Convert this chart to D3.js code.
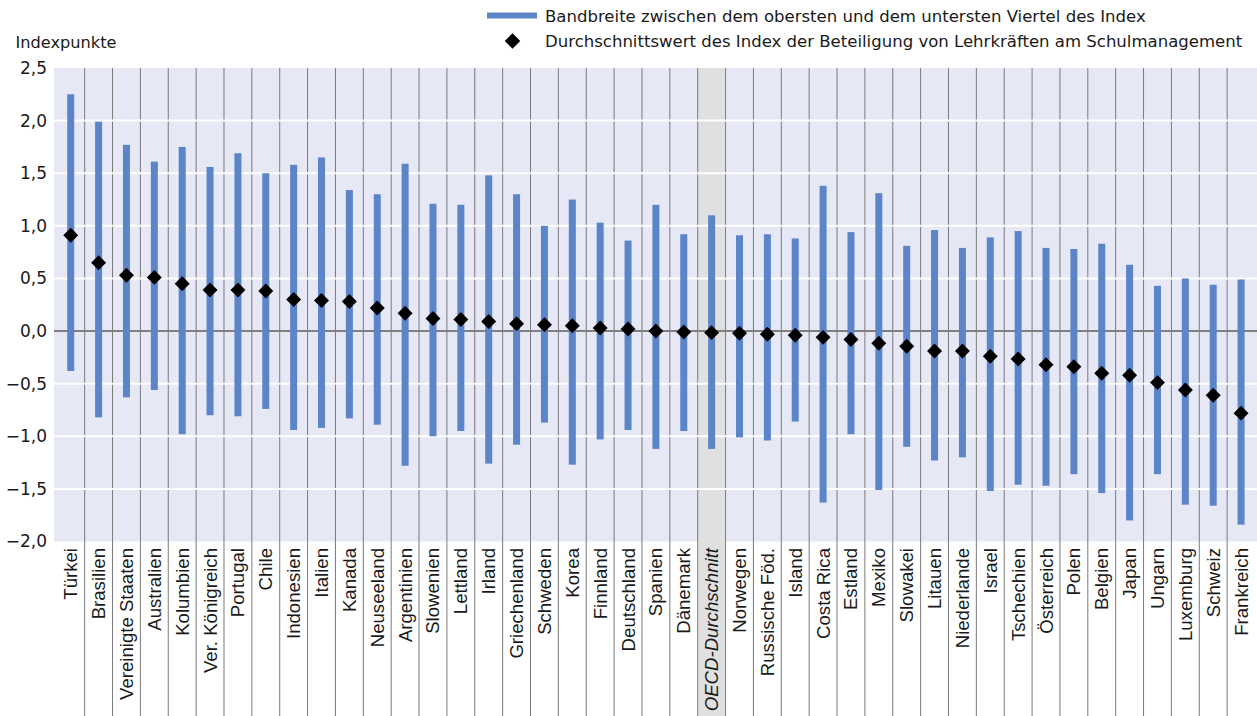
<!DOCTYPE html>
<html><head><meta charset="utf-8">
<script src="https://cdn.jsdelivr.net/npm/d3@7"></script>
<style>
html,body{margin:0;padding:0;background:#fff;}
svg{display:block;}
</style></head>
<body>
<svg id="c" width="1257" height="716"></svg>
<script>
const categories = ["Türkei","Brasilien","Vereinigte Staaten","Australien","Kolumbien","Ver. Königreich","Portugal","Chile","Indonesien","Italien","Kanada","Neuseeland","Argentinien","Slowenien","Lettland","Irland","Griechenland","Schweden","Korea","Finnland","Deutschland","Spanien","Dänemark","OECD-Durchschnitt","Norwegen","Russische Föd.","Island","Costa Rica","Estland","Mexiko","Slowakei","Litauen","Niederlande","Israel","Tschechien","Österreich","Polen","Belgien","Japan","Ungarn","Luxemburg","Schweiz","Frankreich"];
const upperQuarter = [2.25,1.99,1.77,1.61,1.75,1.56,1.69,1.50,1.58,1.65,1.34,1.30,1.59,1.21,1.20,1.48,1.30,1.00,1.25,1.03,0.86,1.20,0.92,1.10,0.91,0.92,0.88,1.38,0.94,1.31,0.81,0.96,0.79,0.89,0.95,0.79,0.78,0.83,0.63,0.43,0.50,0.44,0.49];
const lowerQuarter = [-0.38,-0.82,-0.63,-0.56,-0.98,-0.80,-0.81,-0.74,-0.94,-0.92,-0.83,-0.89,-1.28,-1.00,-0.95,-1.26,-1.08,-0.87,-1.27,-1.03,-0.94,-1.12,-0.95,-1.12,-1.01,-1.04,-0.86,-1.63,-0.98,-1.51,-1.10,-1.23,-1.20,-1.52,-1.46,-1.47,-1.36,-1.54,-1.80,-1.36,-1.65,-1.66,-1.84];
const meanIndex = [0.91,0.65,0.53,0.51,0.45,0.39,0.39,0.38,0.30,0.29,0.28,0.22,0.17,0.12,0.11,0.09,0.07,0.06,0.05,0.03,0.02,0.00,-0.01,-0.015,-0.02,-0.03,-0.04,-0.06,-0.08,-0.115,-0.145,-0.19,-0.19,-0.24,-0.265,-0.32,-0.34,-0.40,-0.42,-0.49,-0.56,-0.61,-0.78];
const yTicks = [-2,-1.5,-1,-0.5,0,0.5,1,1.5,2,2.5];
const highlight = "OECD-Durchschnitt";
const legendLabels = ["Bandbreite zwischen dem obersten und dem untersten Viertel des Index","Durchschnittswert des Index der Beteiligung von Lehrkräften am Schulmanagement"];
const yTitle = "Indexpunkte";

const data = categories.map((c,i)=>({c, hi:upperQuarter[i], lo:lowerQuarter[i], m:meanIndex[i]}));

const svg = d3.select("#c");
const W = 1257, H = 716;
const plot = {left:54, right:1257, top:68, bottom:541.5};
const x = d3.scaleBand().domain(categories).range([56.8,1255]).padding(0);
const y = d3.scaleLinear().domain([-2,2.5]).range([plot.bottom, plot.top]);
const fmt = v => (v<0?"\u2212":"") + Math.abs(v).toFixed(1).replace(".",",");

// background
svg.append("rect").attr("x",plot.left).attr("y",plot.top).attr("width",plot.right-plot.left).attr("height",plot.bottom-plot.top).attr("fill","#e6e8f5");
// highlighted column
svg.append("rect").attr("x",x(highlight)).attr("y",plot.top).attr("width",x.bandwidth()).attr("height",H-plot.top).attr("fill","#e0e0e0");

// vertical separators
svg.append("g").selectAll("line").data(categories.slice(1)).join("line")
  .attr("x1",d=>x(d)).attr("x2",d=>x(d)).attr("y1",plot.top).attr("y2",H)
  .attr("stroke","#7a7a7a").attr("stroke-width",1);

// gridlines
svg.append("g").selectAll("line").data(yTicks.filter(v=>v!==0 && v!==-2 && v!==2.5)).join("line")
  .attr("x1",plot.left).attr("x2",plot.right).attr("y1",d=>y(d)).attr("y2",d=>y(d))
  .attr("stroke","#ffffff").attr("stroke-width",2);
svg.append("line").attr("x1",plot.left).attr("x2",plot.right).attr("y1",y(0)).attr("y2",y(0))
  .attr("stroke","#808080").attr("stroke-width",2);

// bars
const bw = 7;
svg.append("g").selectAll("rect").data(data).join("rect")
  .attr("x",d=>x(d.c)+x.bandwidth()/2-bw/2).attr("width",bw)
  .attr("y",d=>y(d.hi)).attr("height",d=>y(d.lo)-y(d.hi))
  .attr("fill","#5b84c9");

// diamonds
const diamond = d3.symbol().type(d3.symbolSquare).size(112);
svg.append("g").selectAll("path").data(data).join("path")
  .attr("d",diamond)
  .attr("transform",d=>`translate(${x(d.c)+x.bandwidth()/2},${y(d.m)}) rotate(45)`)
  .attr("fill","#000");

// y axis
const yAxis = svg.append("g").attr("transform",`translate(47,0)`)
  .call(d3.axisLeft(y).tickValues(yTicks).tickFormat(fmt).tickSize(0).tickPadding(0));
yAxis.select(".domain").remove();
yAxis.selectAll("text").attr("font-family","DejaVu Sans").attr("font-size",17).attr("fill","#1a1a1a");

svg.append("text").attr("x",15.5).attr("y",47.5).text(yTitle)
  .attr("font-family","DejaVu Sans").attr("font-size",16.2).attr("fill","#1a1a1a");

// x axis labels
const xAxis = svg.append("g").attr("transform",`translate(0,${plot.bottom})`)
  .call(d3.axisBottom(x).tickSize(0).tickPadding(0));
xAxis.select(".domain").remove();
xAxis.selectAll("text")
  .attr("font-family","Liberation Sans").attr("font-size",18.6).attr("fill","#1a1a1a")
  .attr("text-anchor","end").attr("dy",null).attr("y",null)
  .attr("dominant-baseline","central")
  .attr("transform","translate(0,6.5) rotate(-90)")
  .attr("font-style",d=>d===highlight?"italic":"normal");

// legend
const lg = svg.append("g");
lg.append("rect").attr("x",487).attr("y",12.5).attr("width",50).attr("height",6).attr("fill","#5b84c9");
lg.append("path").attr("d",d3.symbol().type(d3.symbolSquare).size(120)).attr("transform","translate(512.5,41) rotate(45)").attr("fill","#000");
lg.selectAll("text").data(legendLabels).join("text")
  .attr("x",545).attr("y",(d,i)=>21.5+i*25.5).text(d=>d)
  .attr("font-family","DejaVu Sans").attr("font-size",16.55).attr("fill","#1a1a1a");
</script>
</body></html>
